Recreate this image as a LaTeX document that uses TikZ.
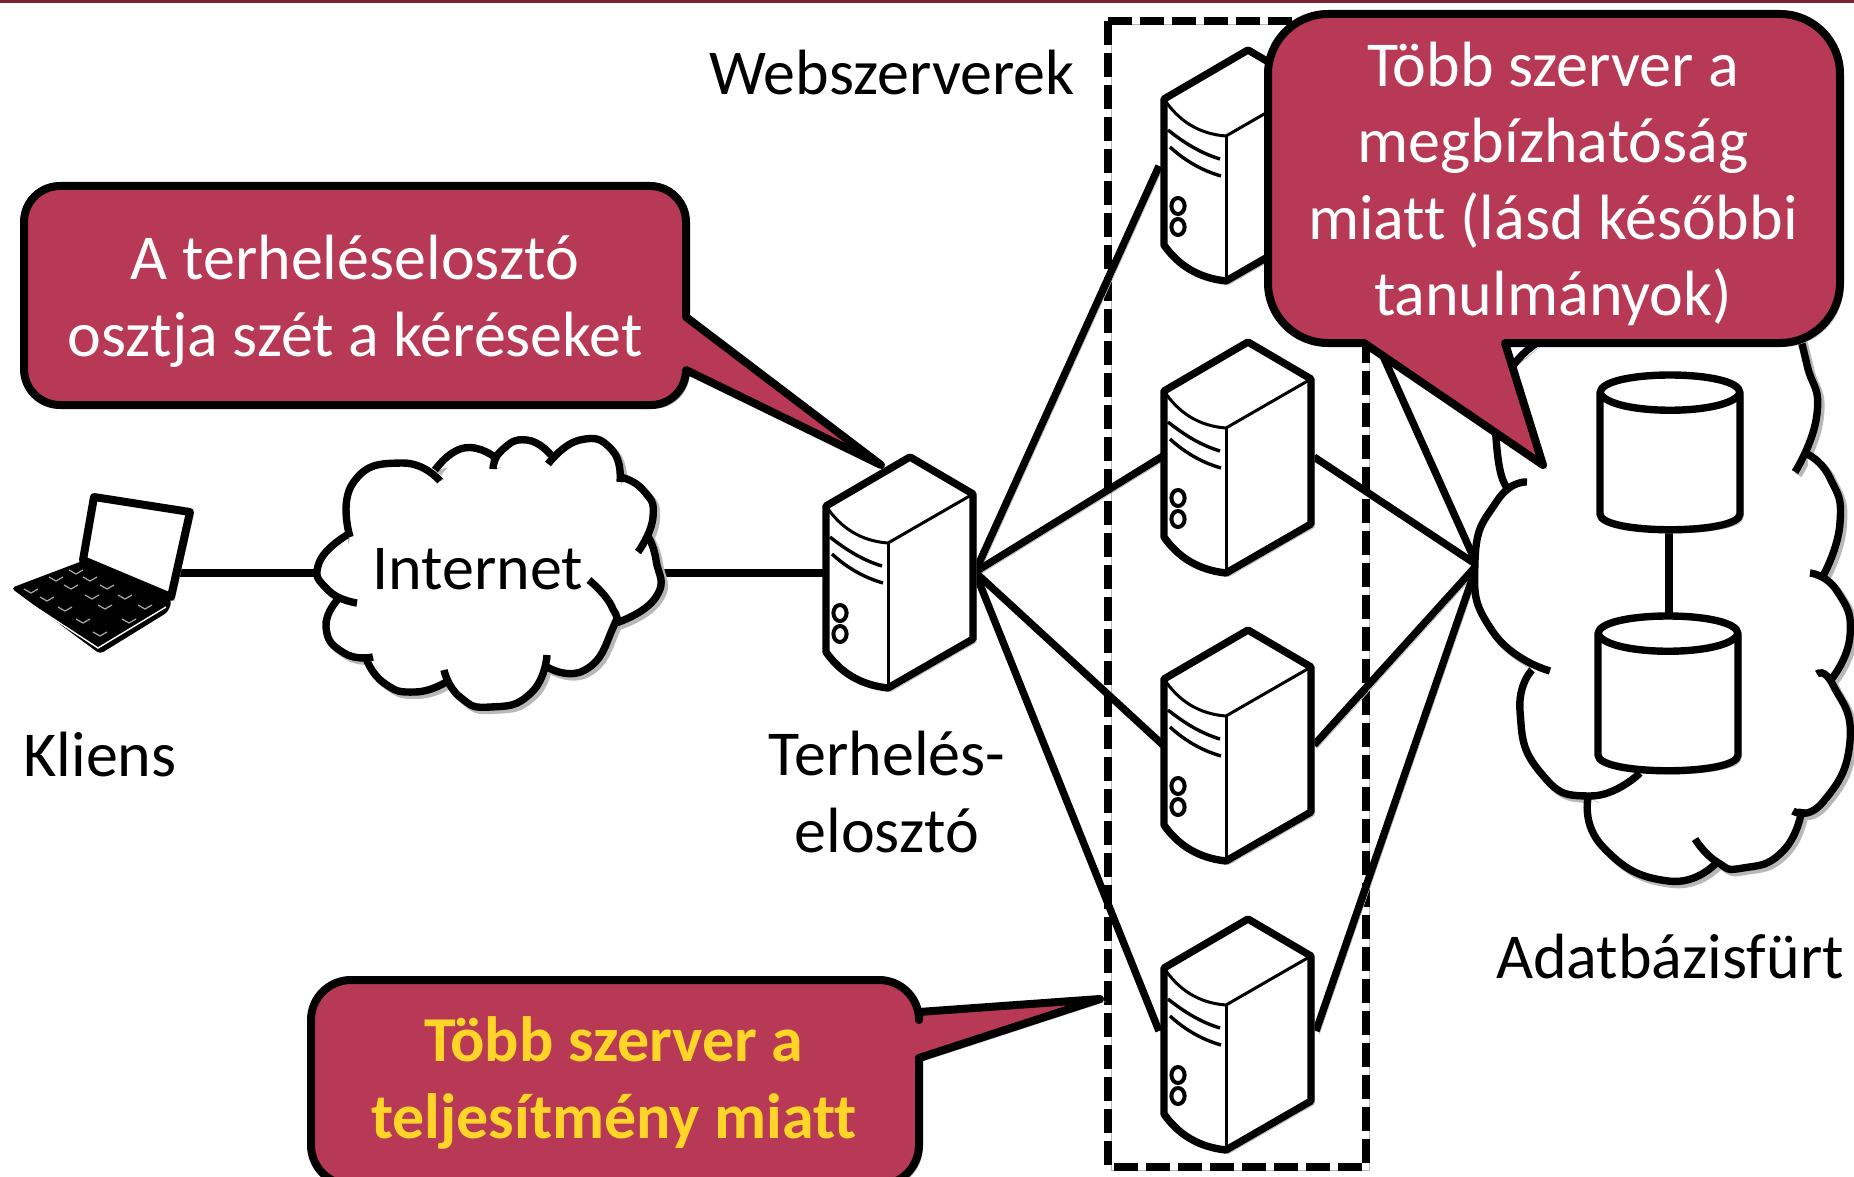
\documentclass[tikz,border=0pt]{standalone}
\usepackage{fontspec}
\setmainfont[Ligatures=NoCommon]{Carlito}
\definecolor{crim}{RGB}{184,57,85}
\definecolor{bar}{RGB}{124,34,56}
\definecolor{yel}{RGB}{255,214,40}
\tikzset{
 x=0.5pt,y=-0.5pt,
 sh/.style={preaction={draw=black!28,transform canvas={shift={(1.6pt,-1.6pt)}}}},
 link/.style={draw=black,line width=3.7pt,sh},
 outl/.style={draw=black,line width=3.7pt,line join=round},
 callout/.style={draw=black,fill=crim,line width=4pt,line join=round},
 calltext/.style={text=white,align=center,font=\fontsize{32}{38.3}\selectfont},
 label/.style={text=black,align=center,font=\fontsize{32}{38.3}\selectfont},
 server/.pic={
  \draw[outl,fill=white,sh] (0,0) -- (63,37) -- (63,182) -- (-22,231) .. controls (-50,228) and (-70,215) .. (-84,195) -- (-84,49) -- cycle;
  \draw[line width=1.5pt] (-84,49) .. controls (-70,70) and (-50,84) .. (-22,86) -- (63,37);
  \draw[line width=1.5pt] (-22,86) -- (-22,231);
  \draw[line width=1.7pt] (-80,80) .. controls (-65,92) and (-48,103) .. (-28,109);
  \draw[line width=1.7pt] (-78,97) .. controls (-65,109) and (-48,120) .. (-27,126);
  \draw[line width=2pt] (-70,156) ellipse [x radius=3.3pt,y radius=4pt];
  \draw[line width=2pt] (-70,177) ellipse [x radius=3.3pt,y radius=4pt];
 },
 cyl/.pic={
  \draw[outl,fill=white,sh] (-70,0) .. controls (-70,-24) and (70,-24) .. (70,0) -- (70,121) .. controls (70,142) and (-70,142) .. (-70,121) -- cycle;
  \draw[outl] (-70,0) .. controls (-60,23) and (60,23) .. (70,0);
 }
}
\newcommand\smoothbump[1]{plot[smooth,tension=.95] coordinates{#1}}
\newcommand\bump[1]{}
\newcommand\cloudpasses[1]{%
 \renewcommand\bump[1]{\draw[draw=black!28,line width=3.7pt,transform canvas={shift={(1.6pt,-1.6pt)}}] \smoothbump{##1};}#1%
 \renewcommand\bump[1]{\fill[white] \smoothbump{##1};}#1%
}
\newcommand\cloudstrokes[1]{%
 \renewcommand\bump[1]{\draw[draw=black,line width=3.7pt] \smoothbump{##1};}#1%
}
\newcommand\netbumps{%
 \bump{(350,537)(353,483)(402,463)(440,481)}
 \bump{(435,470)(464,448)(496,458)}
 \bump{(493,469)(502,450)(527,440)(551,455)}
 \bump{(548,464)(580,440)(612,450)(620,482)}
 \bump{(620,477)(643,490)(653,517)(638,552)}
 \bump{(647,535)(656,560)(656,597)(616,623)}
 \bump{(589,580)(612,607)(612,630)(585,670)(547,667)}
 \bump{(547,655)(531,693)(491,707)(460,697)(444,670)}
 \bump{(446,682)(415,692)(384,683)(366,658)}
 \bump{(373,657)(344,653)(326,627)(339,598)}
 \bump{(357,603)(328,590)(319,563)(347,535)}
}
\newcommand\dbbumps{%
 \bump{(1510,370)(1530,348)(1560,330)}
 \bump{(1495,420)(1500,470)(1510,490)}
 \bump{(1527,482)(1497,501)(1475,561)(1493,632)(1550,671)}
 \bump{(1532,670)(1520,711)(1540,772)(1590,796)(1640,773)}
 \bump{(1588,798)(1603,847)(1668,881)(1717,862)}
 \bump{(1695,839)(1717,862)(1743,868)(1783,851)(1802,809)}
 \bump{(1793,811)(1823,802)(1850,741)(1833,685)(1817,674)}
 \bump{(1830,681)(1850,636)(1837,591)(1810,573)}
 \bump{(1823,576)(1840,523)(1830,478)(1807,454)}
 \bump{(1795,472)(1817,414)(1807,365)(1798,330)}
}
\begin{document}
\begin{tikzpicture}
\useasboundingbox (0,0) rectangle (1854,1177);
\clip (0,0) rectangle (1854,1177);
\fill[white] (0,0) rectangle (1854,1177);
\fill[bar] (0,0) rectangle (1854,3);

% named ends
\coordinate (lapR) at (178,573);
\coordinate (netL) at (320,573);
\coordinate (netR) at (658,573);
\coordinate (lbL) at (828,573);
\coordinate (lbR) at (975,572);
\coordinate (dbL) at (1477,565);
\coordinate (w1L) at (1159,166);
\coordinate (w2L) at (1163,456);
\coordinate (w3L) at (1163,745);
\coordinate (w4L) at (1159,1031);
\coordinate (w1R) at (1311,196);
\coordinate (w2R) at (1314,457);
\coordinate (w3R) at (1314,745);
\coordinate (w4R) at (1316,1031);

% dashed frame
\draw[draw=black,line width=3.9pt,dash pattern=on 12pt off 4pt,sh] (1108,21) rectangle (1366,1167);

% connectors
\draw[link] (lapR) -- (netL);
\draw[link] (netR) -- (lbL);
\foreach \t in {w1L,w2L,w3L,w4L} \draw[link] (lbR) -- (\t);
\foreach \t in {w1R,w2R,w3R,w4R} \draw[link] (\t) -- (dbL);

% laptop
\draw[black,fill=white,line width=4pt,line join=round,sh] (94,497) -- (190,512) -- (171,597) -- (83,560) -- cycle;
\fill[black,rounded corners=2pt] (11,588) -- (85,560) -- (172,600) -- (168,612) -- (100,654) -- cycle;
\draw[white,line width=.7pt] (20,597) -- (98,648) -- (166,607);
\foreach \a/\b in {76/573,90/580,56/580,71/588,107/588,31/592,92/598,125/598,47/600,65/610,105/608,145/608,83/622,129/622,100/635}
  \draw[black!35,line width=.6pt] (\a-7,\b-3) -- (\a,\b+1) -- (\a+7,\b-3);

% internet cloud
\cloudpasses{\netbumps}
\fill[white] (350,537) -- (440,481) -- (493,469) -- (548,464) -- (620,480) -- (638,552) -- (616,623) -- (547,660) -- (446,680) -- (366,658) -- (339,598) -- cycle;
\cloudstrokes{\netbumps}

% db cloud
\cloudpasses{\dbbumps}
\fill[white] (1500,440) -- (1513,370) -- (1560,330) -- (1798,340) -- (1795,472) -- (1810,573) -- (1817,674) -- (1793,811) -- (1695,839) -- (1588,798) -- (1532,670) -- (1475,561) -- cycle;
\cloudstrokes{\dbbumps}

% servers
\pic at (910,457) {server};
\pic at (1248,50) {server};
\pic at (1248,342) {server};
\pic at (1248,630) {server};
\pic at (1248,919) {server};

% database
\coordinate (cylA) at (1669,529);
\coordinate (cylB) at (1669,617);
\draw[link] (cylA) -- (cylB);
\pic at (1670,393) {cyl};
\pic at (1668,634) {cyl};

% labels
\node[label] (lweb) at (892,73) {Webszerverek};
\node[label] (lnet) at (478,569) {Internet};
\node[label] (lkli) at (100,755) {Kliens};
\node[label] (llb) at (887,792) {Terhelés-\\elosztó};
\node[label] (ldb) at (1670,957) {Adatbázisfürt};

% callouts
\draw[callout,sh] (60,186) -- (650,186) arc[start angle=-90,end angle=0,radius=36] -- (686,317) -- (881,465) -- (686,370) arc[start angle=0,end angle=90,radius=35] -- (60,405) arc[start angle=90,end angle=180,radius=36] -- (24,222) arc[start angle=180,end angle=270,radius=36] -- cycle;
\node[calltext] (c1) at (355,301) {A terheléselosztó\\osztja szét a kéréseket};

\draw[callout,sh] (351,980) -- (879,980) arc[start angle=-90,end angle=0,radius=40] -- (919,1012) -- (1100,999) -- (919,1058) -- (919,1145) arc[start angle=0,end angle=90,radius=40] -- (351,1185) arc[start angle=90,end angle=180,radius=40] -- (311,1020) arc[start angle=180,end angle=270,radius=40] -- cycle;
\node[calltext,text=yel,font=\fontsize{32}{38.3}\selectfont\bfseries] (c2) at (614,1083) {Több szerver a\\teljesítmény miatt};

\draw[callout,sh] (1328,14) -- (1780,14) arc[start angle=-90,end angle=0,radius=60] -- (1840,283) arc[start angle=0,end angle=90,radius=60] -- (1505,343) -- (1543,465) -- (1364,343) -- (1328,343) arc[start angle=90,end angle=180,radius=60] -- (1268,74) arc[start angle=180,end angle=270,radius=60] -- cycle;
\node[calltext] (c3) at (1553,184) {Több szerver a\\megbízhatóság\\miatt (lásd későbbi\\tanulmányok)};
\end{tikzpicture}
\end{document}
